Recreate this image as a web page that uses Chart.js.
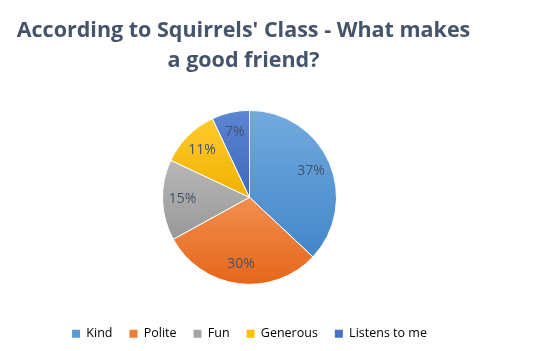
<!DOCTYPE html>
<html>
<head>
<meta charset="utf-8">
<script src="https://cdn.jsdelivr.net/npm/chart.js@4"></script>
<style>
  html, body { margin: 0; padding: 0; background: #ffffff; }
</style>
</head>
<body>
<canvas id="friendChart" width="541" height="351"></canvas>
<script>
var categories = ["Kind", "Polite", "Fun", "Generous", "Listens to me"];
var percentValues = [37, 30, 15, 11, 7];
var pctLabels = ["37%", "30%", "15%", "11%", "7%"];

var flatColors = ["#5B9BD5", "#ED7D31", "#A5A5A5", "#FFC000", "#4472C4"];
var lightColors = ["#72aade", "#f28e4e", "#b7b7b7", "#ffca2e", "#5c85d2"];
var darkColors = ["#4286c9", "#e5661a", "#989898", "#efb200", "#3c68bc"];

var pieRadius = 87;

// gradient per slice, top light -> bottom dark, over that slice's own box
function sliceFill(context) {
    var chart = context.chart;
    var area = chart.chartArea;
    var i = context.dataIndex;
    if (!area) return flatColors[i];
    var cx = (area.left + area.right) / 2;
    var cy = (area.top + area.bottom) / 2;
    var total = percentValues.reduce(function (a, b) { return a + b; }, 0);
    var before = 0;
    for (var k = 0; k < i; k++) before += percentValues[k];
    var a0 = -Math.PI / 2 + before / total * Math.PI * 2;
    var a1 = a0 + percentValues[i] / total * Math.PI * 2;
    var ys = [cy, cy + pieRadius * Math.sin(a0), cy + pieRadius * Math.sin(a1)];
    [Math.PI / 2, -Math.PI / 2, Math.PI * 1.5].forEach(function (t) {
        if (t > a0 && t < a1) ys.push(cy + pieRadius * Math.sin(t));
    });
    var g = chart.ctx.createLinearGradient(0, Math.min.apply(null, ys), 0, Math.max.apply(null, ys));
    g.addColorStop(0, lightColors[i]);
    g.addColorStop(1, darkColors[i]);
    return g;
}

var sliceLabels = {
    id: 'sliceLabels',
    afterDatasetsDraw: function (chart) {
        var ctx = chart.ctx;
        var meta = chart.getDatasetMeta(0);
        ctx.save();
        ctx.font = '14px "Open Sans", sans-serif';
        ctx.fillStyle = '#44546A';
        ctx.textAlign = 'center';
        ctx.textBaseline = 'middle';
        meta.data.forEach(function (arc, i) {
            var p = arc.getProps(['x', 'y', 'startAngle', 'endAngle', 'outerRadius'], true);
            var mid = (p.startAngle + p.endAngle) / 2;
            var r = p.outerRadius * 0.77;
            ctx.fillText(pctLabels[i], p.x + Math.cos(mid) * r, p.y + Math.sin(mid) * r);
        });
        ctx.restore();
    }
};

// title sits a little left of the pie in the original
var titleNudge = {
    id: 'titleNudge',
    afterLayout: function (chart) {
        chart.titleBlock.left -= 6;
        chart.titleBlock.right -= 6;
    }
};

new Chart(document.getElementById("friendChart"), {
    type: 'pie',
    data: {
        labels: categories,
        datasets: [{
            data: percentValues,
            backgroundColor: sliceFill,
            borderColor: '#ffffff',
            borderWidth: 1
        }]
    },
    options: {
        responsive: false,
        animation: false,
        radius: pieRadius,
        layout: { padding: { top: 16, right: 42, left: 0, bottom: 1 } },
        plugins: {
            title: {
                display: true,
                text: ["According to Squirrels' Class - What makes", "a good friend?"],
                color: '#44546A',
                font: { family: '"Open Sans"', size: 21.5, weight: 'bold', lineHeight: 1.4 },
                padding: { top: 0, bottom: 8 }
            },
            legend: {
                position: 'bottom',
                labels: {
                    boxWidth: 8,
                    boxHeight: 8,
                    padding: 17,
                    color: '#595959',
                    font: { family: '"Open Sans"', size: 12.5 },
                    generateLabels: function (chart) {
                        return categories.map(function (c, i) {
                            return { text: c, fillStyle: flatColors[i], strokeStyle: flatColors[i], lineWidth: 0, index: i, hidden: false };
                        });
                    }
                }
            },
            tooltip: { enabled: false }
        }
    },
    plugins: [sliceLabels, titleNudge]
});
</script>
</body>
</html>
